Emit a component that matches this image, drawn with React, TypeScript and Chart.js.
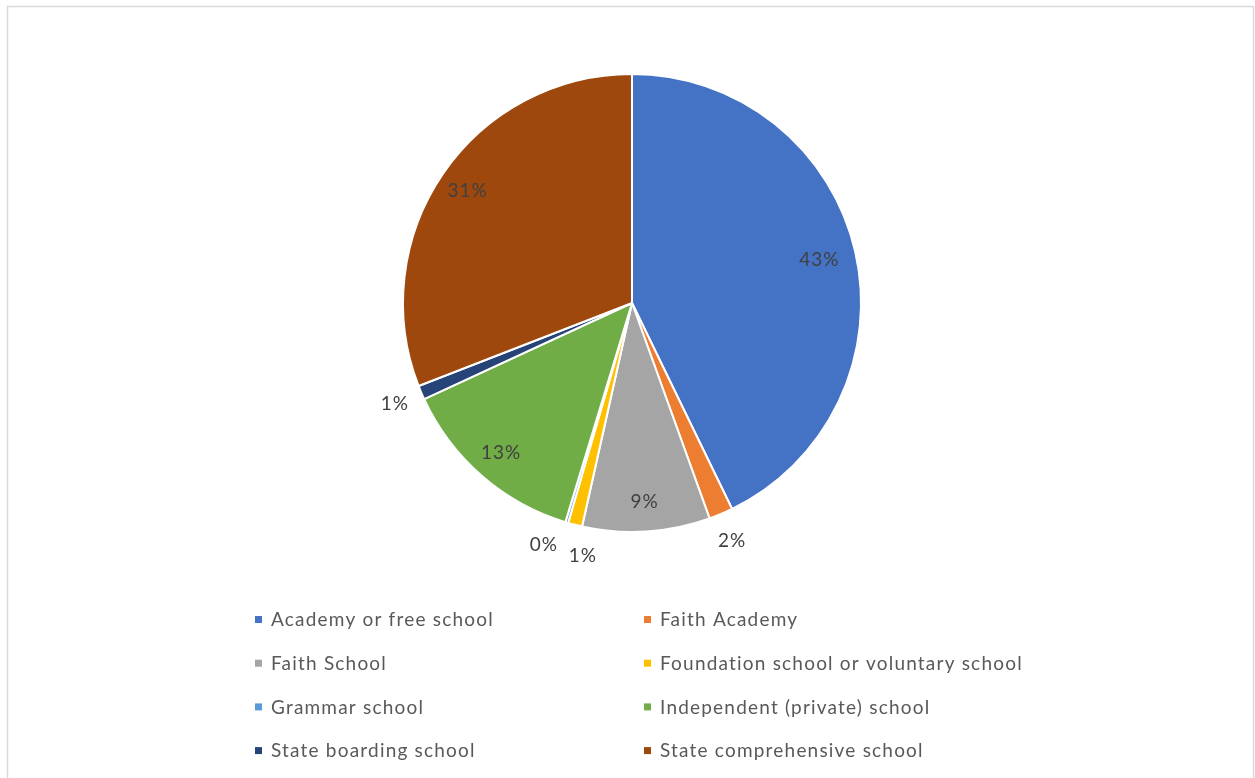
import React, { useEffect, useRef } from 'react';
import { Chart, registerables } from 'chart.js';

Chart.register(...registerables);

const categories: string[] = [
  'Academy or free school',
  'Faith Academy',
  'Faith School',
  'Foundation school or voluntary school',
  'Grammar school',
  'Independent (private) school',
  'State boarding school',
  'State comprehensive school',
];

const shares: number[] = [42.8, 1.7, 9.0, 1.0, 0.2, 13.4, 1.0, 30.9];

const sliceColors: string[] = [
  '#4472C4',
  '#ED7D31',
  '#A5A5A5',
  '#FFC000',
  '#5B9BD5',
  '#70AD47',
  '#264478',
  '#9E480E',
];

const FONT = 'Lato, "Open Sans", sans-serif';

const framePlugin = {
  id: 'frame',
  beforeDraw(chart: any) {
    const ctx = chart.ctx;
    ctx.save();
    ctx.fillStyle = '#ffffff';
    ctx.fillRect(0, 0, chart.width, chart.height);
    ctx.strokeStyle = '#d9d9d9';
    ctx.lineWidth = 1.5;
    ctx.strokeRect(7.5, 6.5, 1246, 800);
    ctx.restore();
  },
};

const labelPlugin = {
  id: 'pieLabels',
  afterDatasetsDraw(chart: any) {
    const ctx = chart.ctx;
    const meta = chart.getDatasetMeta(0);
    const data: number[] = chart.data.datasets[0].data;
    const total = data.reduce((a, b) => a + b, 0);
    const items: any[] = [];
    meta.data.forEach((arc: any, i: number) => {
      const p = data[i] / total;
      const mid = (arc.startAngle + arc.endAngle) / 2;
      const outside = p < 0.05;
      items.push({ i, p, angle: mid, outside, cx: arc.x, cy: arc.y, R: arc.outerRadius });
    });
    const outs = items.filter((it) => it.outside);
    const minSep = (9 * Math.PI) / 180;
    for (let k = 1; k < outs.length; k++) {
      const a = outs[k - 1];
      const b = outs[k];
      if (b.angle - a.angle < minSep) {
        const m = (a.angle + b.angle) / 2;
        a.angle = m - minSep / 2;
        b.angle = m + minSep / 2;
      }
    }
    ctx.save();
    ctx.font = `19px ${FONT}`;
    (ctx as any).letterSpacing = '1px';
    ctx.fillStyle = '#404040';
    ctx.textAlign = 'center';
    ctx.textBaseline = 'middle';
    items.forEach((it) => {
      const r = it.outside ? it.R * 1.125 : it.R * (it.p > 0.35 ? 0.84 : 0.87);
      const x = it.cx + r * Math.cos(it.angle);
      const y = it.cy + r * Math.sin(it.angle);
      ctx.fillText(`${Math.round(it.p * 100)}%`, x, y);
    });
    ctx.restore();
  },
};

const legendPlugin = {
  id: 'gridLegend',
  afterDraw(chart: any) {
    const ctx = chart.ctx;
    const labels: string[] = chart.data.labels;
    const colors: string[] = chart.data.datasets[0].backgroundColor;
    const colX = [259, 648];
    const rowY0 = 619;
    const rowGap = 43.7;
    ctx.save();
    ctx.font = `19px ${FONT}`;
    (ctx as any).letterSpacing = '1.2px';
    ctx.textAlign = 'left';
    ctx.textBaseline = 'middle';
    labels.forEach((lab, i) => {
      const col = i % 2;
      const row = Math.floor(i / 2);
      const x = colX[col];
      const y = rowY0 + row * rowGap;
      ctx.fillStyle = colors[i];
      ctx.fillRect(x - 4, y - 3, 7, 7);
      ctx.fillStyle = '#595959';
      ctx.fillText(lab, x + 12, y + 1);
    });
    ctx.restore();
  },
};

export default function App() {
  const ref = useRef<HTMLCanvasElement | null>(null);
  useEffect(() => {
    if (!ref.current) return;
    const chart = new Chart(ref.current, {
      type: 'pie',
      data: {
        labels: categories,
        datasets: [
          {
            data: shares,
            backgroundColor: sliceColors,
            borderColor: '#ffffff',
            borderWidth: 2,
            hoverOffset: 0,
          },
        ],
      },
      options: {
        responsive: false,
        animation: false,
        layout: { padding: { left: 402, right: 393, top: 73, bottom: 245 } },
        plugins: {
          legend: { display: false },
          tooltip: { enabled: false },
          title: { display: false },
        },
      },
      plugins: [framePlugin, labelPlugin, legendPlugin],
    });
    return () => chart.destroy();
  }, []);
  return (
    <div style={{ position: 'fixed', left: 0, top: 0, width: 1255, height: 778, background: '#fff' }}>
      <canvas ref={ref} width={1255} height={778} style={{ display: 'block' }} />
    </div>
  );
}
